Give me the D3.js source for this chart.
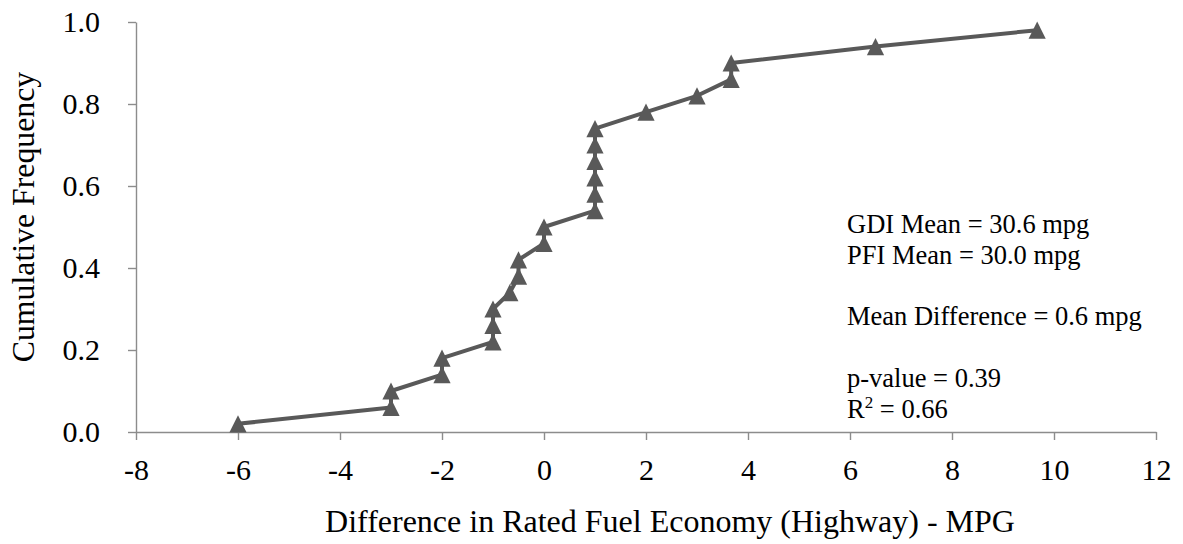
<!DOCTYPE html>
<html>
<head>
<meta charset="utf-8">
<script src="https://cdn.jsdelivr.net/npm/d3@7"></script>
<style>
  html, body { margin: 0; padding: 0; background: #ffffff; }
  svg { display: block; }
</style>
</head>
<body>
<svg id="chart" width="1183" height="544"></svg>
<script>
// Difference in rated highway fuel economy (GDI - PFI), sorted, with cumulative frequency
const mpgDifference = [-6, -3, -3, -2, -2, -1, -1, -1, -0.67, -0.5, -0.5, 0, 0,
                       1, 1, 1, 1, 1, 1, 2, 3, 3.67, 3.67, 6.5, 9.67];
const cumulativeFrequency = [0.02, 0.06, 0.10, 0.14, 0.18, 0.22, 0.26, 0.30, 0.34, 0.38, 0.42, 0.46, 0.50,
                             0.54, 0.58, 0.62, 0.66, 0.70, 0.74, 0.78, 0.82, 0.86, 0.90, 0.94, 0.98];
const xTicks = [-8, -6, -4, -2, 0, 2, 4, 6, 8, 10, 12];
const yTicks = [0.0, 0.2, 0.4, 0.6, 0.8, 1.0];
const statLines = [
  { text: "GDI Mean = 30.6 mpg" },
  { text: "PFI Mean = 30.0 mpg" },
  { text: "" },
  { text: "Mean Difference = 0.6 mpg" },
  { text: "" },
  { text: "p-value = 0.39" },
  { text: "R", sup: "2", rest: " = 0.66" }
];

const points = mpgDifference.map((d, i) => ({ x: d, y: cumulativeFrequency[i] }));

const svg = d3.select("#chart");
const plot = { left: 136, right: 1156, top: 22, bottom: 432 };

const x = d3.scaleLinear().domain([-8, 12]).range([plot.left, plot.right]);
const y = d3.scaleLinear().domain([0, 1]).range([plot.bottom, plot.top]);

const axisColor = "#8c8c8c";
const markColor = "#595959";

// x axis
const gx = svg.append("g")
  .attr("transform", `translate(0,${plot.bottom})`)
  .call(d3.axisBottom(x).tickValues(xTicks).tickFormat(d3.format("d"))
    .tickSizeInner(8).tickSizeOuter(0).tickPadding(19));
gx.attr("font-family", "Liberation Serif").attr("font-size", 30);
gx.select(".domain").attr("stroke", axisColor).attr("stroke-width", 1.4);
gx.selectAll(".tick line").attr("stroke", axisColor).attr("stroke-width", 1.4);
gx.selectAll(".tick text")
  .attr("fill", "#000")
  .style("font-family", "Liberation Serif")
  .text(d => d < 0 ? "-" + Math.abs(d) : String(d));

// y axis
const gy = svg.append("g")
  .attr("transform", `translate(${plot.left},0)`)
  .call(d3.axisLeft(y).tickValues(yTicks).tickFormat(d3.format(".1f"))
    .tickSizeInner(8).tickSizeOuter(0).tickPadding(28));
gy.attr("font-family", "Liberation Serif").attr("font-size", 30);
gy.select(".domain").attr("stroke", axisColor).attr("stroke-width", 1.4);
gy.selectAll(".tick line").attr("stroke", axisColor).attr("stroke-width", 1.4);
gy.selectAll(".tick text").attr("fill", "#000").style("font-family", "Liberation Serif");

// axis titles
svg.append("text")
  .attr("x", 670).attr("y", 532)
  .attr("text-anchor", "middle")
  .style("font-family", "Liberation Serif")
  .attr("font-size", 32)
  .attr("fill", "#000")
  .text("Difference in Rated Fuel Economy (Highway) - MPG");

svg.append("text")
  .attr("transform", "translate(34,217) rotate(-90)")
  .attr("text-anchor", "middle")
  .style("font-family", "Liberation Serif")
  .attr("font-size", 31.8)
  .attr("fill", "#000")
  .text("Cumulative Frequency");

// cumulative curve
const line = d3.line().x(d => x(d.x)).y(d => y(d.y));
svg.append("path")
  .datum(points)
  .attr("d", line)
  .attr("fill", "none")
  .attr("stroke", markColor)
  .attr("stroke-width", 4)
  .attr("stroke-linejoin", "round");

// triangle markers
const tri = 17.2;
svg.append("g").selectAll("path")
  .data(points)
  .join("path")
  .attr("transform", d => `translate(${x(d.x)},${y(d.y)})`)
  .attr("d", `M0,${-tri / 2}L${tri / 2},${tri / 2}L${-tri / 2},${tri / 2}Z`)
  .attr("fill", markColor);

// summary statistics
const stats = svg.append("g").attr("font-size", 26.5).attr("fill", "#000");
const lineGap = 30.8;
statLines.forEach((s, i) => {
  if (!s.text) return;
  const t = stats.append("text").style("font-family", "Liberation Serif")
    .attr("x", 847).attr("y", 233 + i * lineGap);
  t.append("tspan").text(s.text);
  if (s.sup) {
    t.append("tspan").attr("font-size", 17).attr("dy", -10).text(s.sup);
    t.append("tspan").attr("dy", 10).text(s.rest);
  }
});
</script>
</body>
</html>
